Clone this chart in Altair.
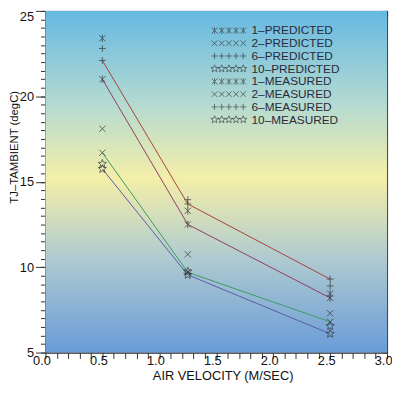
import math
import altair as alt
import pandas as pd

# ---- data ----
velocity = [0.5, 1.25, 2.5]

pred_names = ["1–PREDICTED", "2–PREDICTED", "6–PREDICTED", "10–PREDICTED"]
meas_names = ["1–MEASURED", "2–MEASURED", "6–MEASURED", "10–MEASURED"]

pred_1 = [21.0, 12.5, 8.2]
pred_2 = [16.7, 9.7, 6.8]
pred_6 = [22.1, 13.7, 9.3]
pred_10 = [15.75, 9.55, 6.1]

meas_1 = [23.4, 13.3, 8.45]
meas_2 = [18.1, 10.75, 7.3]
meas_6 = [22.8, 13.95, 8.9]
meas_10 = [16.05, 9.75, 6.55]

line_colors = ["#8e3d66", "#3c9a62", "#a8413a", "#5a5aa8"]

x_ticks = [round(i * 0.1, 1) for i in range(31)]
y_ticks = [round(5 + i * 0.5, 1) for i in range(41)]
y_major = [5, 10, 15, 20, 25]

# ---- build tables ----
pred_rows = []
for name, vals in zip(pred_names, [pred_1, pred_2, pred_6, pred_10]):
    for i, (v, t) in enumerate(zip(velocity, vals)):
        pred_rows.append({"series": name, "v": v, "t": t, "order": i})
pred_df = pd.DataFrame(pred_rows)

meas_rows = []
for name, vals in zip(meas_names, [meas_1, meas_2, meas_6, meas_10]):
    for v, t in zip(velocity, vals):
        meas_rows.append({"series": name, "v": v, "t": t})
meas_df = pd.DataFrame(meas_rows)

all_names = pred_names + meas_names
leg_sym = []
leg_txt = []
for i, name in enumerate(all_names):
    yy = 23.85 - i * 0.745
    for k in range(5):
        leg_sym.append({"series": name, "v": 1.485 + k * 0.063, "t": yy})
    leg_txt.append({"series": name, "v": 1.81, "t": yy})
leg_sym_df = pd.DataFrame(leg_sym)
leg_txt_df = pd.DataFrame(leg_txt)

# ---- marker paths ----
asterisk = "M-1,-1L1,1M-1,1L1,-1M0,-1.2L0,1.2"
xmark = "M-1,-1L1,1M-1,1L1,-1"
plus = "M-1.1,0L1.1,0M0,-1.1L0,1.1"
pts = []
for j in range(10):
    r = 1.4 if j % 2 == 0 else 0.6
    a = -math.pi / 2 + j * math.pi / 5
    pts.append(f"{r * math.cos(a):.3f},{r * math.sin(a):.3f}")
star = "M" + "L".join(pts) + "Z"
shape_range = [asterisk, xmark, plus, star] * 2

FONT = "Liberation Sans"
xs = alt.Scale(domain=[0, 3], nice=False, zero=False)
ys = alt.Scale(domain=[5, 25], nice=False, zero=False)
shape_scale = alt.Scale(domain=all_names, range=shape_range)

x_label_expr = "abs(datum.value*2 - round(datum.value*2)) < 0.001 ? format(datum.value, '.1f') : ''"

bg = alt.Chart(pd.DataFrame({"x": [0], "x2": [3], "y": [5], "y2": [25]})).mark_rect(
    color=alt.Gradient(
        gradient="linear",
        stops=[
            alt.GradientStop(color="#66b9e2", offset=0),
            alt.GradientStop(color="#b6dbd0", offset=0.28),
            alt.GradientStop(color="#f4efa8", offset=0.49),
            alt.GradientStop(color="#b0cbd0", offset=0.72),
            alt.GradientStop(color="#6a9bd8", offset=1),
        ],
        x1=0, x2=0, y1=0, y2=1,
    )
).encode(
    x=alt.X("x:Q", scale=xs, axis=alt.Axis(
        orient="bottom", values=x_ticks, labelExpr=x_label_expr, labelOverlap=False,
        labelFlush=False, tickSize=6, labelPadding=-4, labelOffset=-4,
        title="AIR VELOCITY (M/SEC)", titleX=180, titleY=27.5, titleBaseline="alphabetic",
        titleFontSize=13)),
    x2="x2:Q",
    y=alt.Y("y:Q", scale=ys, axis=alt.Axis(
        orient="left", values=y_major, format="d", labelOverlap=False,
        labelFlush=False, tickSize=10, labelPadding=2,
        labelBaseline=alt.condition("datum.value >= 24.99", alt.value("top"), alt.value("middle")),
        title="TJ–TAMBIENT (degC)", titlePadding=0, titleY=138, titleFontSize=11.5)),
    y2="y2:Q",
)

lines = alt.Chart(pred_df).mark_line(strokeWidth=1).encode(
    x=alt.X("v:Q", scale=xs, axis=alt.Axis(
        orient="top", offset=-5, values=x_ticks, labels=False, domain=False,
        tickSize=5, title=None)),
    y=alt.Y("t:Q", scale=ys, axis=alt.Axis(
        orient="right", offset=-5, values=y_ticks, labels=False, domain=False,
        tickSize=5, title=None)),
    color=alt.Color("series:N", scale=alt.Scale(domain=pred_names, range=line_colors), legend=None),
    order="order:Q",
)

pred_pts = alt.Chart(pred_df).mark_point(filled=False, stroke="#333333", strokeWidth=1, size=40).encode(
    x=alt.X("v:Q", scale=xs, axis=None),
    y=alt.Y("t:Q", scale=ys, axis=None),
    shape=alt.Shape("series:N", scale=shape_scale, legend=None),
)

meas_pts = alt.Chart(meas_df).mark_point(filled=False, stroke="#333333", strokeWidth=1, size=40).encode(
    x=alt.X("v:Q", scale=xs, axis=None),
    y=alt.Y("t:Q", scale=ys, axis=alt.Axis(
        orient="left", values=y_ticks, labels=False, domain=False,
        tickSize=5, title=None)),
    shape=alt.Shape("series:N", scale=shape_scale, legend=None),
)

leg_pts = alt.Chart(leg_sym_df).mark_point(filled=False, stroke="#333333", strokeWidth=0.9, size=32).encode(
    x=alt.X("v:Q", scale=xs, axis=None),
    y=alt.Y("t:Q", scale=ys, axis=None),
    shape=alt.Shape("series:N", scale=shape_scale, legend=None),
)

leg_text = alt.Chart(leg_txt_df).mark_text(
    align="left", baseline="middle", font=FONT, fontSize=12, color="#2a2a3a"
).encode(
    x=alt.X("v:Q", scale=xs, axis=None),
    y=alt.Y("t:Q", scale=ys, axis=None),
    text="series:N",
)

chart = alt.layer(bg, lines, pred_pts, meas_pts, leg_pts, leg_text).resolve_axis(
    y="independent"
).properties(
    width=347,
    height=347,
    autosize="none",
    padding={"left": 38, "top": 0, "right": 5, "bottom": 30},
).configure_view(
    stroke="#333333", strokeWidth=1
).configure_axis(
    labelFont=FONT, labelFontSize=13, labelColor="#111111",
    titleFont=FONT, titleFontWeight="normal", titleColor="#111111",
    tickColor="#333333", domainColor="#333333", grid=False,
)

chart.save("out.html", embed_options={"renderer": "svg", "actions": False})
